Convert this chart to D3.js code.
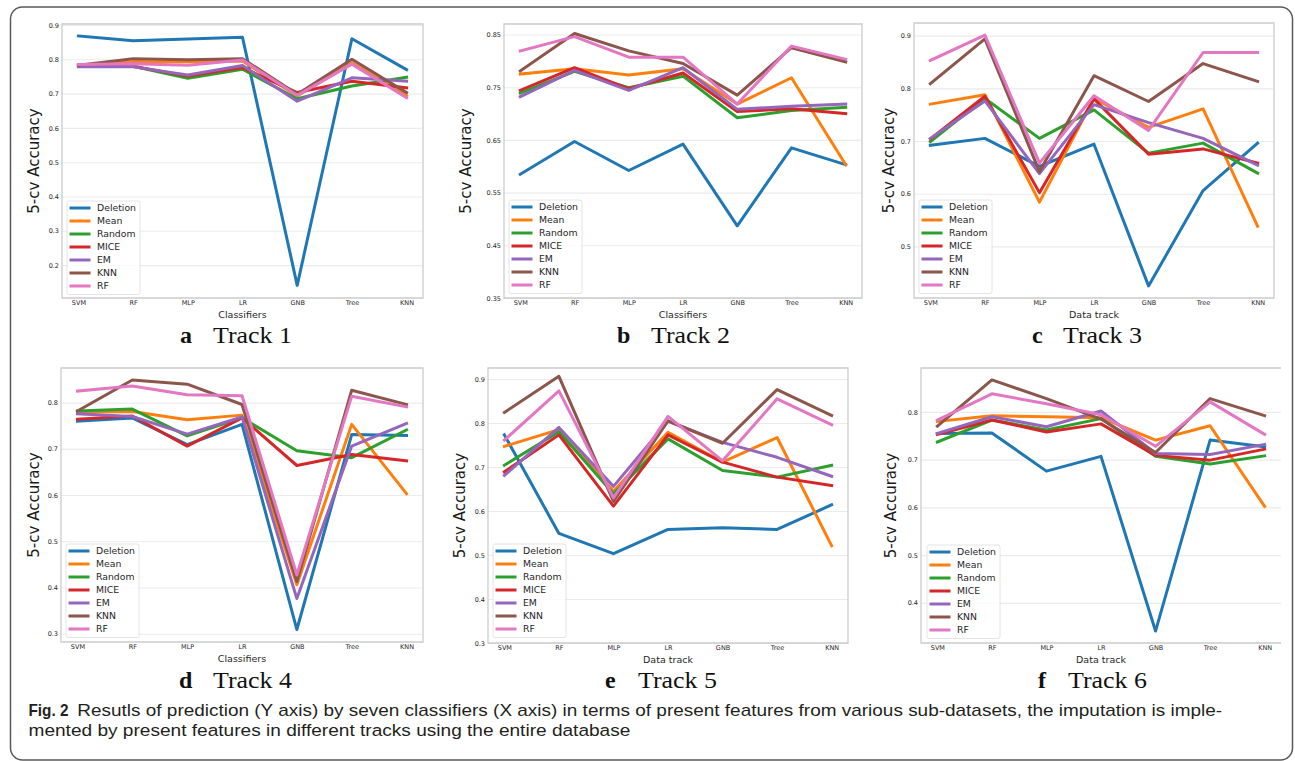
<!DOCTYPE html>
<html>
<head>
<meta charset="utf-8">
<script src="https://cdn.jsdelivr.net/npm/d3@7"></script>
<style>
  body { margin: 0; background: #fff; }
  svg { display: block; }
</style>
</head>
<body>
<div id="chart"></div>
<script>
const WIDTH = 1295;
const HEIGHT = 761;

const categories = ['SVM', 'RF', 'MLP', 'LR', 'GNB', 'Tree', 'KNN'];
const methods = ['Deletion', 'Mean', 'Random', 'MICE', 'EM', 'KNN', 'RF'];
const colors = ['#1f77b4', '#ff7f0e', '#2ca02c', '#d62728', '#9467bd', '#8c564b', '#e377c2'];

// one row per method, same order as methods
const track1 = [
    [0.868, 0.854, 0.859, 0.864, 0.141, 0.860, 0.770],
    [0.783, 0.793, 0.793, 0.795, 0.693, 0.790, 0.694],
    [0.780, 0.780, 0.745, 0.771, 0.685, 0.722, 0.748],
    [0.780, 0.780, 0.751, 0.776, 0.703, 0.736, 0.717],
    [0.778, 0.778, 0.754, 0.782, 0.678, 0.746, 0.736],
    [0.783, 0.802, 0.799, 0.802, 0.698, 0.800, 0.703],
    [0.785, 0.787, 0.783, 0.798, 0.695, 0.786, 0.688]
];
const track2 = [
    [0.585, 0.647, 0.592, 0.642, 0.487, 0.635, 0.603],
    [0.775, 0.785, 0.773, 0.785, 0.718, 0.768, 0.603],
    [0.739, 0.780, 0.749, 0.771, 0.692, 0.706, 0.712],
    [0.744, 0.787, 0.747, 0.777, 0.704, 0.709, 0.700],
    [0.732, 0.782, 0.744, 0.787, 0.708, 0.714, 0.718],
    [0.781, 0.852, 0.819, 0.795, 0.735, 0.825, 0.798],
    [0.819, 0.846, 0.807, 0.807, 0.718, 0.828, 0.803]
];
const track3 = [
    [0.692, 0.705, 0.652, 0.694, 0.425, 0.606, 0.696],
    [0.770, 0.788, 0.584, 0.781, 0.726, 0.761, 0.538],
    [0.699, 0.781, 0.705, 0.759, 0.677, 0.696, 0.639],
    [0.704, 0.785, 0.602, 0.780, 0.675, 0.685, 0.658],
    [0.705, 0.776, 0.638, 0.769, 0.735, 0.705, 0.654],
    [0.809, 0.894, 0.642, 0.824, 0.775, 0.847, 0.813],
    [0.853, 0.901, 0.658, 0.786, 0.720, 0.868, 0.868]
];
const track4 = [
    [0.760, 0.767, 0.709, 0.753, 0.309, 0.731, 0.729],
    [0.780, 0.781, 0.763, 0.773, 0.406, 0.753, 0.603],
    [0.782, 0.786, 0.728, 0.767, 0.696, 0.681, 0.741],
    [0.764, 0.771, 0.706, 0.767, 0.664, 0.688, 0.674],
    [0.776, 0.770, 0.732, 0.769, 0.376, 0.706, 0.755],
    [0.782, 0.849, 0.840, 0.796, 0.413, 0.827, 0.796],
    [0.825, 0.836, 0.817, 0.815, 0.427, 0.814, 0.791]
];
const track5 = [
    [0.773, 0.549, 0.503, 0.558, 0.562, 0.558, 0.614],
    [0.747, 0.785, 0.645, 0.779, 0.711, 0.767, 0.521],
    [0.704, 0.780, 0.639, 0.764, 0.692, 0.677, 0.704],
    [0.689, 0.773, 0.611, 0.773, 0.711, 0.677, 0.658],
    [0.681, 0.790, 0.656, 0.804, 0.756, 0.722, 0.679],
    [0.824, 0.906, 0.622, 0.805, 0.754, 0.876, 0.817],
    [0.761, 0.873, 0.630, 0.815, 0.714, 0.855, 0.796]
];
const track6 = [
    [0.755, 0.756, 0.676, 0.707, 0.341, 0.741, 0.727],
    [0.780, 0.792, 0.790, 0.788, 0.741, 0.771, 0.602],
    [0.737, 0.783, 0.762, 0.786, 0.707, 0.691, 0.708],
    [0.753, 0.783, 0.758, 0.775, 0.709, 0.699, 0.722],
    [0.755, 0.790, 0.769, 0.802, 0.713, 0.711, 0.732],
    [0.770, 0.867, 0.828, 0.785, 0.715, 0.828, 0.792],
    [0.783, 0.838, 0.817, 0.794, 0.728, 0.821, 0.753]
];

const yTicks1 = [0.2, 0.3, 0.4, 0.5, 0.6, 0.7, 0.8, 0.9];
const yTicks2 = [0.35, 0.45, 0.55, 0.65, 0.75, 0.85];
const yTicks3 = [0.5, 0.6, 0.7, 0.8, 0.9];
const yTicks4 = [0.3, 0.4, 0.5, 0.6, 0.7, 0.8];
const yTicks5 = [0.3, 0.4, 0.5, 0.6, 0.7, 0.8, 0.9];
const yTicks6 = [0.4, 0.5, 0.6, 0.7, 0.8];

const captionBold = 'Fig. 2';
const captionLine1 = 'Resutls of prediction (Y axis) by seven classifiers (X axis) in terms of present features from various sub-datasets, the imputation is imple-';
const captionLine2 = 'mented by present features in different tracks using the entire database';

// panel layout
const panels = [
    { data: track1, ticks: yTicks1, yDomain: [0.104, 0.903], left: 62, right: 423, top: 24, bottom: 298,
      xLabel: 'Classifiers', yLabelX: 39, legend: [67, 201], letter: 'a', title: 'Track 1', letterX: 180, titleX: 213, capY: 343 },
    { data: track2, ticks: yTicks2, yDomain: [0.35, 0.87], left: 504, right: 862, top: 24, bottom: 298,
      xLabel: 'Classifiers', yLabelX: 471, legend: [509, 200], letter: 'b', title: 'Track 2', letterX: 617, titleX: 651, capY: 343 },
    { data: track3, ticks: yTicks3, yDomain: [0.402, 0.924], left: 914, right: 1274, top: 23, bottom: 298,
      xLabel: 'Data track', yLabelX: 894, legend: [919, 200], letter: 'c', title: 'Track 3', letterX: 1032, titleX: 1063, capY: 343 },
    { data: track4, ticks: yTicks4, yDomain: [0.282, 0.875], left: 61, right: 423, top: 368, bottom: 642,
      xLabel: 'Classifiers', yLabelX: 38.5, legend: [66, 544], letter: 'd', title: 'Track 4', letterX: 179, titleX: 213, capY: 688 },
    { data: track5, ticks: yTicks5, yDomain: [0.3, 0.925], left: 488, right: 848, top: 368, bottom: 643,
      xLabel: 'Data track', yLabelX: 465, legend: [493, 544], letter: 'e', title: 'Track 5', letterX: 605, titleX: 638, capY: 688 },
    { data: track6, ticks: yTicks6, yDomain: [0.316, 0.892], left: 921, right: 1281, top: 368, bottom: 643,
      xLabel: 'Data track', yLabelX: 896, legend: [927, 545], letter: 'f', title: 'Track 6', letterX: 1038, titleX: 1068, capY: 688, noRight: true }
];

const svg = d3.select('#chart')
    .append('svg')
    .attr('width', WIDTH)
    .attr('height', HEIGHT);

svg.append('rect')
    .attr('width', WIDTH).attr('height', HEIGHT)
    .attr('fill', '#fff');

// outer figure box
svg.append('rect')
    .attr('x', 10.5).attr('y', 7)
    .attr('width', 1282).attr('height', 753)
    .attr('rx', 12)
    .attr('fill', 'none')
    .attr('stroke', '#5a5a5a')
    .attr('stroke-width', 1.5);

const fmt = d3.format('.2~f');

// squeeze a text horizontally so it spans the given width
function fitText(sel, x, y, width) {
    const w = sel.node().getComputedTextLength();
    sel.attr('transform', `translate(${x},${y}) scale(${width / w},1)`);
}

panels.forEach(p => {
    const g = svg.append('g');

    const x = d3.scalePoint()
        .domain(categories)
        .range([p.left, p.right])
        .padding(0.3);

    const y = d3.scaleLinear()
        .domain(p.yDomain)
        .range([p.bottom, p.top]);

    // grid
    g.append('g')
        .attr('transform', `translate(${p.left},0)`)
        .call(d3.axisLeft(y).tickValues(p.ticks).tickSize(-(p.right - p.left)).tickFormat(''))
        .call(a => a.select('.domain').remove())
        .call(a => a.selectAll('line').attr('stroke', '#ebebeb').attr('stroke-width', 1.1));

    // frame
    const fr = g.append('path')
        .attr('fill', 'none')
        .attr('stroke', '#cccccc')
        .attr('stroke-width', 1.3);
    if (p.noRight) {
        fr.attr('d', `M${p.right},${p.top}H${p.left}V${p.bottom}H${p.right}`);
    } else {
        fr.attr('d', `M${p.left},${p.top}H${p.right}V${p.bottom}H${p.left}Z`);
    }

    // y tick labels
    g.append('g')
        .attr('transform', `translate(${p.left},0)`)
        .call(d3.axisLeft(y).tickValues(p.ticks).tickSize(0).tickPadding(3).tickFormat(fmt))
        .call(a => a.select('.domain').remove())
        .call(a => a.selectAll('text')
            .attr('font-family', 'DejaVu Sans')
            .attr('font-size', 6.5)
            .attr('fill', '#262626'));

    // x tick labels
    g.append('g')
        .attr('transform', `translate(0,${p.bottom})`)
        .call(d3.axisBottom(x).tickSize(0).tickPadding(2.5))
        .call(a => a.select('.domain').remove())
        .call(a => a.selectAll('text')
            .attr('font-family', 'DejaVu Sans')
            .attr('font-size', 6.5)
            .attr('fill', '#262626'));

    // axis labels
    g.append('text')
        .text(p.xLabel)
        .attr('x', (p.left + p.right) / 2)
        .attr('y', p.bottom + 20)
        .attr('text-anchor', 'middle')
        .attr('font-family', 'DejaVu Sans')
        .attr('font-size', 9.5)
        .attr('fill', '#262626');

    g.append('text')
        .text('5-cv Accuracy')
        .attr('transform', `translate(${p.yLabelX},${(p.top + p.bottom) / 2}) rotate(-90)`)
        .attr('text-anchor', 'middle')
        .attr('font-family', 'DejaVu Sans')
        .attr('font-size', 15)
        .attr('fill', '#1a1a1a');

    // lines
    const line = d3.line()
        .x((d, i) => x(categories[i]))
        .y(d => y(d));

    g.append('g')
        .selectAll('path')
        .data(p.data)
        .enter()
        .append('path')
        .attr('d', d => line(d))
        .attr('fill', 'none')
        .attr('stroke', (d, i) => colors[i])
        .attr('stroke-width', 3)
        .attr('stroke-linejoin', 'round')
        .attr('stroke-linecap', 'square');

    // legend
    const lg = g.append('g')
        .attr('transform', `translate(${p.legend[0]},${p.legend[1]})`);

    lg.append('rect')
        .attr('width', 73).attr('height', 93.5)
        .attr('rx', 2)
        .attr('fill', 'rgba(255,255,255,0.8)')
        .attr('stroke', '#dddddd')
        .attr('stroke-width', 0.8);

    const items = lg.selectAll('g.item')
        .data(methods)
        .enter()
        .append('g')
        .attr('transform', (d, i) => `translate(0,${7 + i * 13})`);

    items.append('line')
        .attr('x1', 2.5).attr('x2', 23.5)
        .attr('stroke', (d, i) => colors[i])
        .attr('stroke-width', 3);

    items.append('text')
        .text(d => d)
        .attr('x', 30)
        .attr('y', 3.3)
        .attr('font-family', 'DejaVu Sans')
        .attr('font-size', 9.3)
        .attr('fill', '#262626');

    // sub caption
    g.append('text')
        .text(p.letter)
        .attr('x', p.letterX)
        .attr('y', p.capY)
        .attr('font-family', 'Liberation Serif')
        .attr('font-weight', 'bold')
        .attr('font-size', 24)
        .attr('fill', '#111');

    const t = g.append('text')
        .text(p.title)
        .attr('font-family', 'Liberation Serif')
        .attr('font-size', 24)
        .attr('fill', '#111');
    fitText(t, p.titleX, p.capY, 79);
});

// figure caption
const c0 = svg.append('text')
    .text(captionBold)
    .attr('font-family', 'Liberation Sans')
    .attr('font-weight', 'bold')
    .attr('font-size', 16.6)
    .attr('fill', '#231f20');
fitText(c0, 28.5, 716.3, 40);

const c1 = svg.append('text')
    .text(captionLine1)
    .attr('font-family', 'Liberation Sans')
    .attr('font-size', 16.6)
    .attr('fill', '#231f20');
fitText(c1, 77.3, 716.3, 1145);

const c2 = svg.append('text')
    .text(captionLine2)
    .attr('font-family', 'Liberation Sans')
    .attr('font-size', 16.6)
    .attr('fill', '#231f20');
fitText(c2, 28.5, 735.5, 602);
</script>
</body>
</html>
